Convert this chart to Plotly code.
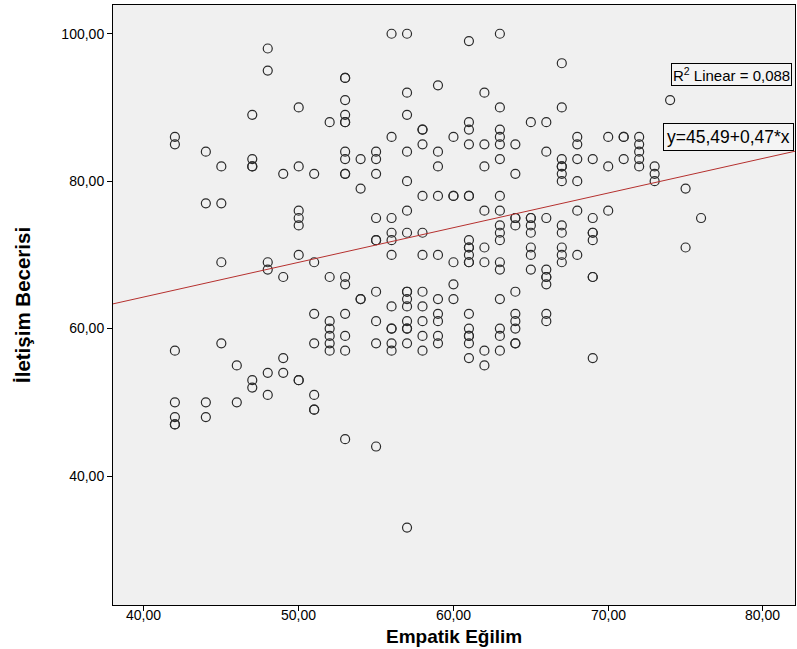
import plotly.graph_objects as go

# Empatik Eğilim (x) values and İletişim Becerisi (y) values, grouped per x column
x_values = [42, 44, 45, 46, 47, 48, 49, 50, 51, 52, 53, 54, 55, 56, 57, 58, 59, 60,
            61, 62, 63, 64, 65, 66, 67, 68, 69, 70, 71, 72, 73, 74, 75, 76]
y_groups = [
    [86, 85, 57, 50, 48, 47, 47],
    [84, 77, 50, 48],
    [82, 77, 69, 58],
    [55, 50],
    [89, 83, 82, 82, 53, 52],
    [98, 95, 69, 68, 54, 51],
    [81, 67, 56, 54],
    [90, 82, 76, 75, 74, 70, 53, 53],
    [81, 69, 62, 58, 51, 49, 49],
    [88, 67, 61, 60, 59, 58, 57],
    [94, 94, 91, 89, 88, 88, 84, 83, 81, 81, 67, 66, 62, 59, 57, 45],
    [83, 79, 64, 64],
    [84, 83, 81, 75, 72, 72, 65, 61, 58, 44],
    [100, 86, 75, 73, 72, 70, 63, 60, 60, 58, 57],
    [100, 92, 89, 84, 80, 76, 73, 65, 65, 64, 63, 61, 60, 60, 58, 33],
    [87, 87, 85, 78, 73, 70, 65, 63, 61, 59, 57],
    [93, 84, 82, 78, 70, 64, 62, 61, 59, 58],
    [86, 78, 78, 69, 66, 64],
    [99, 88, 87, 85, 78, 78, 72, 71, 71, 70, 69, 69, 62, 60, 59, 59, 58, 56],
    [92, 85, 82, 76, 71, 69, 57, 55],
    [100, 90, 87, 86, 85, 83, 78, 76, 74, 73, 72, 69, 68, 64, 60, 59, 57],
    [85, 81, 75, 75, 74, 65, 62, 61, 60, 58, 58],
    [88, 75, 75, 74, 73, 71, 70, 68],
    [88, 84, 75, 68, 67, 67, 66, 62, 61],
    [96, 90, 83, 82, 82, 81, 80, 74, 73, 71, 70, 69],
    [86, 85, 83, 80, 76, 70],
    [83, 75, 73, 73, 72, 67, 67, 56],
    [86, 82, 76],
    [86, 86, 83],
    [86, 85, 84, 83, 82],
    [82, 81, 80],
    [91],
    [79, 71],
    [75],
]

# Regression line (as printed on the chart)
intercept = 45.49
slope = 0.47
r_squared_label = "R<sup>2</sup> Linear = 0,088"
equation_label = "y=45,49+0,47*x"
x_title = "<b>Empatik Eğilim</b>"
y_title = "<b>İletişim Becerisi</b>"

x_ticks = [40, 50, 60, 70, 80]
x_tick_labels = ["40,00", "50,00", "60,00", "70,00", "80,00"]
y_ticks = [40, 60, 80, 100]
y_tick_labels = ["40,00", "60,00", "80,00", "100,00"]

x_range = [38.0, 82.07]
y_range = [22.5, 103.9]

empatik = []
iletisim = []
for xv, ys in zip(x_values, y_groups):
    for yv in ys:
        empatik.append(xv)
        iletisim.append(yv)

font_family = "Liberation Sans, Arial, sans-serif"
W, H = 797, 649
ML, MR, MT, MB = 113, 2, 5, 44
PW, PH = W - ML - MR, H - MT - MB


def paper_y(py):
    return 1 - (py - MT) / PH


fig = go.Figure()
fig.add_trace(go.Scatter(
    x=empatik, y=iletisim, mode="markers",
    marker=dict(symbol="circle-open", size=9, color="#2a2a2a", line=dict(width=1.2)),
    showlegend=False, hoverinfo="x+y",
))
fig.add_trace(go.Scatter(
    x=x_range, y=[intercept + slope * v for v in x_range], mode="lines",
    line=dict(color="#b5302e", width=1), showlegend=False, hoverinfo="skip",
))

fig.add_annotation(
    xref="paper", yref="paper", x=0.9956, y=0.885, xanchor="right", yanchor="middle",
    text=r_squared_label, showarrow=False,
    font=dict(family=font_family, size=15, color="#000"),
    bordercolor="#000", borderwidth=1, borderpad=1, bgcolor="#f4f4f4",
)
fig.add_annotation(
    xref="paper", yref="paper", x=0.9985, y=0.78, xanchor="right", yanchor="middle",
    text=equation_label, showarrow=False,
    font=dict(family=font_family, size=17.5, color="#000"),
    bordercolor="#000", borderwidth=1, borderpad=3, bgcolor="#f4f4f4",
)
# x tick labels, placed on the x scale just below the axis
for tv, tl in zip(x_ticks, x_tick_labels):
    fig.add_annotation(
        xref="x", yref="paper", x=tv, y=paper_y(615), xanchor="center", yanchor="middle",
        text=tl, showarrow=False, font=dict(family=font_family, size=14, color="#000"),
    )
# Axis titles
fig.add_annotation(
    xref="paper", yref="paper", x=(454 - ML) / PW, y=paper_y(637),
    xanchor="center", yanchor="middle", text=x_title, showarrow=False,
    font=dict(family=font_family, size=19, color="#000"),
)
fig.add_annotation(
    xref="paper", yref="paper", x=-(ML - 22) / PW, y=paper_y(305),
    xanchor="center", yanchor="middle", text=y_title, showarrow=False, textangle=-90,
    font=dict(family=font_family, size=20.5, color="#000"),
)

fig.update_layout(
    width=W, height=H,
    margin=dict(l=ML, r=MR, t=MT, b=MB),
    paper_bgcolor="white", plot_bgcolor="#f0f0f0",
    font=dict(family=font_family, size=14, color="#000"),
    xaxis=dict(
        range=x_range, tickvals=x_ticks, showticklabels=False,
        showgrid=False, zeroline=False, showline=True, linecolor="#000", linewidth=1,
        mirror=True, ticks="outside", ticklen=5, tickcolor="#000",
    ),
    yaxis=dict(
        range=y_range, tickvals=y_ticks, ticktext=y_tick_labels,
        showgrid=False, zeroline=False, showline=True, linecolor="#000", linewidth=1,
        mirror=True, ticks="outside", ticklen=5, tickcolor="#000",
    ),
)

fig.write_html(
    "out.html",
    config={"displayModeBar": False},
    post_script="document.body.style.margin='0px';document.body.style.overflow='hidden';",
)
